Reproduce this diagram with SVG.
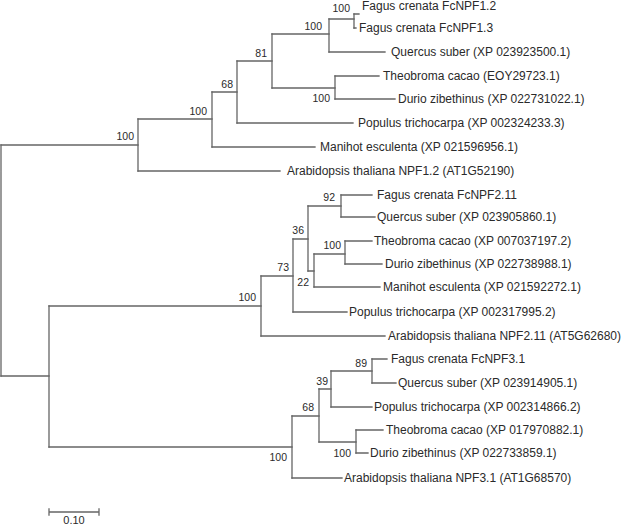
<svg xmlns="http://www.w3.org/2000/svg" width="624" height="526" viewBox="0 0 624 526">
<style>
.e{fill:none;stroke:#666;stroke-width:1.3;stroke-linecap:square}
.t{font-family:"Liberation Sans",Arial,sans-serif;font-size:12px;fill:#2a2a2a}
.b{font-family:"Liberation Sans",Arial,sans-serif;font-size:10.5px;fill:#2a2a2a;text-anchor:end}
.s{font-family:"Liberation Sans",Arial,sans-serif;font-size:11px;fill:#2a2a2a;text-anchor:middle}
</style>
<rect width="624" height="526" fill="#fff"/>
<g id="connectors">
<path class="e" d="M1 145V376 M138 119V171 M212 92V147 M237 61V123 M272 34V88 M329 19V52 M354 14V28 M335 76V99"/>
<path class="e" d="M49 306V447 M261 276V336 M293 239V312 M308 206V271 M341 195V217 M314 254V287 M345 241V264"/>
<path class="e" d="M292 416V478 M319 389V442 M331 371V407 M372 359V383 M356 430V453"/>
<path class="e" d="M1 145H138 M138 119H212 M138 171H280 M212 92H237 M212 147H315 M237 61H272 M237 123H353 M272 34H329 M272 88H335 M329 19H354 M329 52H385 M354 14H359 M354 28H356 M335 76H379 M335 99H395"/>
<path class="e" d="M1 376H49 M49 306H261 M261 276H293 M261 336H385 M293 239H308 M293 312H347 M308 206H341 M308 271H314 M341 195H372 M341 217H375 M314 254H345 M314 287H380 M345 241H372 M345 264H382"/>
<path class="e" d="M49 447H292 M292 416H319 M292 478H342 M319 389H331 M319 442H356 M331 371H372 M331 407H372 M372 359H387 M372 383H396 M356 430H383 M356 453H368"/>
</g>
<g id="leaf-FcNPF1.2"><text class="t" x="362" y="10">Fagus crenata FcNPF1.2</text></g>
<g id="leaf-FcNPF1.3"><text class="t" x="359" y="32">Fagus crenata FcNPF1.3</text></g>
<g id="leaf-Qs1"><text class="t" x="391" y="56">Quercus suber (XP 023923500.1)</text></g>
<g id="leaf-Tc1"><text class="t" x="383" y="80">Theobroma cacao (EOY29723.1)</text></g>
<g id="leaf-Dz1"><text class="t" x="398" y="103">Durio zibethinus (XP 022731022.1)</text></g>
<g id="leaf-Pt1"><text class="t" x="358" y="127">Populus trichocarpa (XP 002324233.3)</text></g>
<g id="leaf-Me1"><text class="t" x="320" y="151">Manihot esculenta (XP 021596956.1)</text></g>
<g id="leaf-At1"><text class="t" x="287" y="175">Arabidopsis thaliana NPF1.2 (AT1G52190)</text></g>
<g id="leaf-FcNPF2.11"><text class="t" x="377" y="199">Fagus crenata FcNPF2.11</text></g>
<g id="leaf-Qs2"><text class="t" x="377" y="221">Quercus suber (XP 023905860.1)</text></g>
<g id="leaf-Tc2"><text class="t" x="374" y="245">Theobroma cacao (XP 007037197.2)</text></g>
<g id="leaf-Dz2"><text class="t" x="385" y="268">Durio zibethinus (XP 022738988.1)</text></g>
<g id="leaf-Me2"><text class="t" x="383" y="291">Manihot esculenta (XP 021592272.1)</text></g>
<g id="leaf-Pt2"><text class="t" x="349" y="316">Populus trichocarpa (XP 002317995.2)</text></g>
<g id="leaf-At2"><text class="t" x="388" y="340">Arabidopsis thaliana NPF2.11 (AT5G62680)</text></g>
<g id="leaf-FcNPF3.1"><text class="t" x="391" y="363">Fagus crenata FcNPF3.1</text></g>
<g id="leaf-Qs3"><text class="t" x="398" y="387">Quercus suber (XP 023914905.1)</text></g>
<g id="leaf-Pt3"><text class="t" x="374" y="411">Populus trichocarpa (XP 002314866.2)</text></g>
<g id="leaf-Tc3"><text class="t" x="386" y="434">Theobroma cacao (XP 017970882.1)</text></g>
<g id="leaf-Dz3"><text class="t" x="370" y="457">Durio zibethinus (XP 022733859.1)</text></g>
<g id="leaf-At3"><text class="t" x="344" y="482">Arabidopsis thaliana NPF3.1 (AT1G68570)</text></g>
<g id="node-N1"><text class="b" x="134" y="140">100</text></g>
<g id="node-N2"><text class="b" x="207" y="115">100</text></g>
<g id="node-N3"><text class="b" x="233" y="88">68</text></g>
<g id="node-N4"><text class="b" x="267" y="57">81</text></g>
<g id="node-N5"><text class="b" x="322" y="30">100</text></g>
<g id="node-N6"><text class="b" x="350" y="12">100</text></g>
<g id="node-N7"><text class="b" x="330" y="102">100</text></g>
<g id="node-M1"><text class="b" x="256" y="301">100</text></g>
<g id="node-M2"><text class="b" x="289" y="271">73</text></g>
<g id="node-M3"><text class="b" x="304" y="234">36</text></g>
<g id="node-M5"><text class="b" x="309" y="286">22</text></g>
<g id="node-M4"><text class="b" x="335" y="201">92</text></g>
<g id="node-M6"><text class="b" x="341" y="249">100</text></g>
<g id="node-P1"><text class="b" x="287" y="461">100</text></g>
<g id="node-P2"><text class="b" x="314" y="411">68</text></g>
<g id="node-P3"><text class="b" x="328" y="385">39</text></g>
<g id="node-P4"><text class="b" x="367" y="367">89</text></g>
<g id="node-P5"><text class="b" x="351" y="457">100</text></g>
<g id="scale-bar">
<path class="e" d="M49 512H99 M49 509V515 M99 509V515"/>
<text class="s" x="74" y="524">0.10</text>
</g>
</svg>
